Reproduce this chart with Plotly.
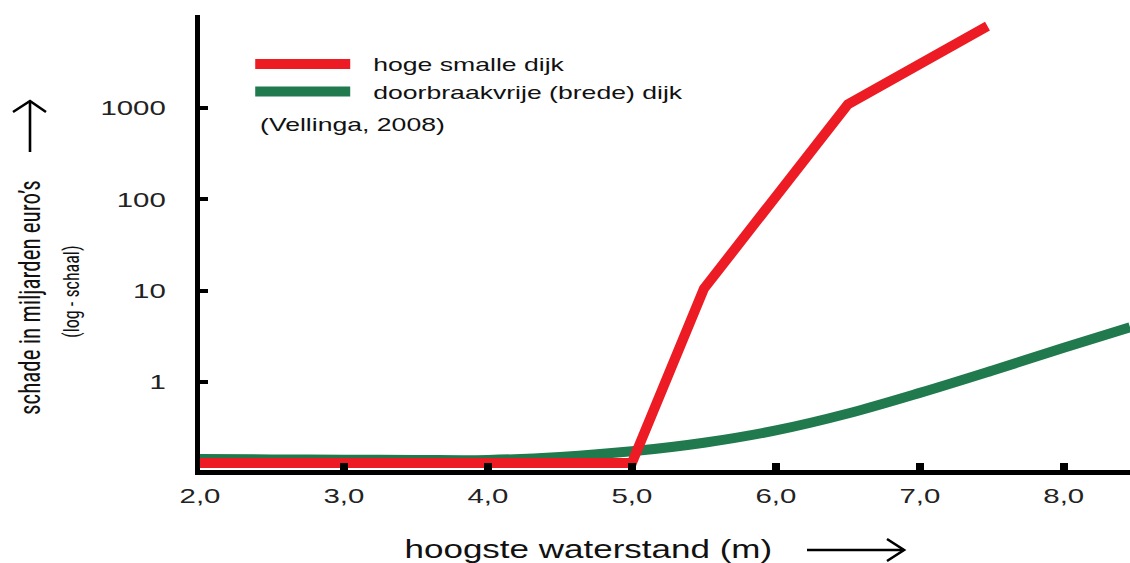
import plotly.graph_objects as go

# Data
x_red = [2.0, 5.0, 5.5, 6.5, 7.47]
y_red = [0.13, 0.13, 10.5, 1100, 7900]

x_green = [2.0, 2.5, 3.0, 3.5, 4.0, 4.5, 5.0, 5.5, 6.0, 6.5, 7.0, 7.5, 8.0, 8.46]
y_green = [0.143, 0.142, 0.141, 0.140, 0.140, 0.151, 0.174, 0.216, 0.295, 0.452, 0.76, 1.33, 2.37, 3.98]

x_ticks = [2, 3, 4, 5, 6, 7, 8]
x_labels = ["2,0", "3,0", "4,0", "5,0", "6,0", "7,0", "8,0"]
y_ticks = [1, 10, 100, 1000]
y_labels = ["1", "10", "100", "1000"]

names = ["hoge smalle dijk", "doorbraakvrije (brede) dijk"]
RED = "#ED1C24"
GREEN = "#217A4D"
FONT = "Liberation Sans, Arial, sans-serif"
NARROW = "Liberation Sans Narrow, Arial Narrow, Roboto Condensed, sans-serif"

W, H = 1130, 563
ML, MR, MT, MB = 200, 0, 15, 93
PW, PH = W - ML - MR, H - MT - MB


def px(x):
    return (x - ML) / PW


def py(y):
    return (H - MB - y) / PH


fig = go.Figure()
# green first so red is drawn on top; legendrank keeps red first in legend
fig.add_trace(go.Scatter(x=x_green, y=y_green, mode="lines", name=names[1], legendrank=2,
                         line=dict(color=GREEN, width=10, shape="spline", smoothing=1.0)))
fig.add_trace(go.Scatter(x=x_red, y=y_red, mode="lines", name=names[0], legendrank=1,
                         line=dict(color=RED, width=10)))

fig.update_layout(
    width=W, height=H,
    margin=dict(l=ML, r=MR, t=MT, b=MB),
    paper_bgcolor="white", plot_bgcolor="white",
    showlegend=True,
    legend=dict(x=0.054, y=0.934, xanchor="left", yanchor="top",
                font=dict(family=FONT, size=19, color="#111"),
                itemwidth=95, bgcolor="rgba(0,0,0,0)", tracegroupgap=0,
                traceorder="normal"),
    xaxis=dict(range=[2.0, 8.46], tickvals=x_ticks, ticktext=x_labels,
               showgrid=False, zeroline=False, showline=True, linecolor="black",
               linewidth=5, ticks="inside", ticklen=7, tickwidth=8, tickcolor="black",
               tickfont=dict(family=FONT, size=21, color="#222"), ticklabelstandoff=3),
    yaxis=dict(type="log", range=[-0.964, 4.02], tickvals=y_ticks, ticktext=y_labels,
               showgrid=False, zeroline=False, showline=True, linecolor="black",
               linewidth=5, ticks="inside", ticklen=8, tickwidth=4, tickcolor="black",
               tickfont=dict(family=FONT, size=21, color="#222"), ticklabelstandoff=25),
)

fig.add_annotation(text="(Vellinga, 2008)", xref="paper", yref="paper",
                   x=px(258), y=py(124), xanchor="left", yanchor="middle",
                   showarrow=False, font=dict(family=FONT, size=19, color="#111"))
fig.add_annotation(text="hoogste waterstand (m)", xref="paper", yref="paper",
                   x=px(588), y=py(549), xanchor="center", yanchor="middle",
                   showarrow=False, font=dict(family=FONT, size=25, color="#111"))
# y title
fig.add_annotation(text="schade in miljarden euro’s", xref="paper", yref="paper",
                   x=px(30), y=py(298), textangle=-90,
                   xanchor="center", yanchor="middle", showarrow=False,
                   font=dict(family=NARROW, size=23, color="#111"))
fig.add_annotation(text="(log - schaal)", xref="paper", yref="paper",
                   x=px(72), y=py(292), textangle=-90,
                   xanchor="center", yanchor="middle", showarrow=False,
                   font=dict(family=NARROW, size=18, color="#111"))

# arrows (decorations) as path shapes
def path(points):
    return "M " + " L ".join(f"{px(a):.5f},{py(b):.5f}" for a, b in points)

arrow_line = dict(color="black", width=2.6)
fig.add_shape(type="path", xref="paper", yref="paper", path=path([(807, 550), (904, 550)]), line=arrow_line)
fig.add_shape(type="path", xref="paper", yref="paper", path=path([(887, 539), (904, 550), (887, 561)]), line=arrow_line)
fig.add_shape(type="path", xref="paper", yref="paper", path=path([(30, 152), (30, 101)]), line=arrow_line)
fig.add_shape(type="path", xref="paper", yref="paper", path=path([(13, 112), (30, 101), (46, 112)]), line=arrow_line)

post = """
document.body.style.margin = '0';
var S = 1.4;
document.querySelectorAll('.legend [clip-path]').forEach(function(e){ e.removeAttribute('clip-path'); });
document.querySelectorAll('svg text').forEach(function(t){
  var s = t.textContent || '';
  if (!s) return;
  var old = t.getAttribute('transform') || '';
  if (s.indexOf('schade') === 0 || s.indexOf('(log') === 0) {
    var b = t.getBBox();
    var cy = b.y + b.height / 2;
    t.setAttribute('transform', old + ' translate(0,' + cy + ') scale(1,1.25) translate(0,' + (-cy) + ')');
    return;
  }
  var x = parseFloat(t.getAttribute('x') || '0') || 0;
  var dx = 0;
  if (t.classList.contains('legendtext')) dx = 18;
  if (s.indexOf('(Vellinga') === 0) dx = (S - 1) * t.getBBox().width / 2;
  t.setAttribute('transform', old + ' translate(' + (x + dx) + ',0) scale(' + S + ',1) translate(' + (-x) + ',0)');
});
"""

fig.write_html("out.html", post_script=post, config={"displayModeBar": False})
